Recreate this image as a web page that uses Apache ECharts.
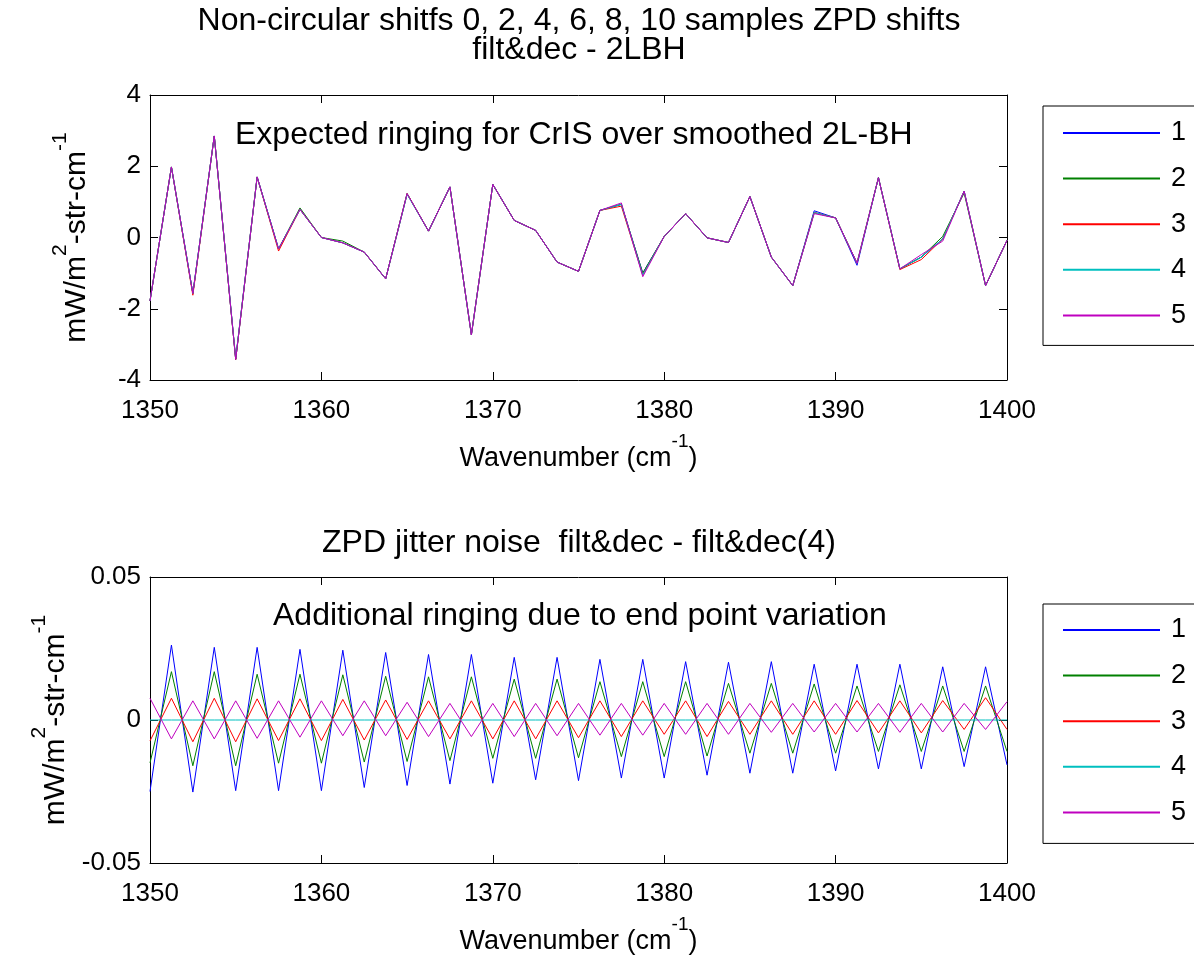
<!DOCTYPE html>
<html><head><meta charset="utf-8">
<script src="https://cdn.jsdelivr.net/npm/echarts@6/dist/echarts.min.js"></script>
<style>html,body{margin:0;padding:0;background:#fff}#c{width:1194px;height:960px}</style>
</head><body><div id="c"></div>
<script>
// ---------- data ----------
const wavenumbers = [1350,1351.25,1352.5,1353.75,1355,1356.25,1357.5,1358.75,1360,1361.25,1362.5,1363.75,1365,1366.25,1367.5,1368.75,1370,1371.25,1372.5,1373.75,1375,1376.25,1377.5,1378.75,1380,1381.25,1382.5,1383.75,1385,1386.25,1387.5,1388.75,1390,1391.25,1392.5,1393.75,1395,1396.25,1397.5,1398.75,1400];
const seriesNames = ['1','2','3','4','5'];

// top panel: ringing for CrIS (mW/m2-str-cm-1)
const top1 = [-1.78,1.98,-1.57,2.85,-3.42,1.70,-0.32,0.79,0.00,-0.15,-0.41,-1.16,1.23,0.18,1.42,-2.73,1.49,0.48,0.20,-0.69,-0.95,0.76,0.93,-1.00,0.03,0.67,-0.01,-0.14,1.15,-0.55,-1.35,0.75,0.55,-0.78,1.68,-0.88,-0.55,-0.04,1.30,-1.35,-0.08];
const top2 = [-1.78,1.98,-1.57,2.85,-3.42,1.70,-0.32,0.83,0.00,-0.10,-0.41,-1.16,1.23,0.18,1.42,-2.73,1.49,0.48,0.20,-0.69,-0.95,0.76,0.93,-1.00,0.03,0.67,-0.01,-0.14,1.15,-0.55,-1.35,0.70,0.55,-0.72,1.68,-0.88,-0.55,0.03,1.25,-1.35,-0.08];
const top3 = [-1.78,1.98,-1.62,2.85,-3.42,1.70,-0.38,0.79,0.00,-0.15,-0.41,-1.16,1.23,0.18,1.42,-2.73,1.49,0.48,0.20,-0.69,-0.95,0.76,0.88,-1.05,0.03,0.67,-0.01,-0.14,1.15,-0.55,-1.35,0.70,0.55,-0.72,1.68,-0.90,-0.62,-0.04,1.30,-1.35,-0.08];
const top4 = [-1.78,1.98,-1.57,2.85,-3.38,1.70,-0.32,0.79,0.00,-0.15,-0.41,-1.16,1.21,0.18,1.42,-2.73,1.49,0.48,0.20,-0.69,-0.95,0.76,0.93,-1.05,0.03,0.67,-0.01,-0.14,1.15,-0.55,-1.35,0.70,0.55,-0.72,1.68,-0.88,-0.55,-0.04,1.30,-1.35,-0.08];
const top5 = [-1.78,1.98,-1.57,2.85,-3.42,1.70,-0.32,0.79,0.00,-0.15,-0.41,-1.16,1.23,0.18,1.42,-2.73,1.49,0.48,0.20,-0.69,-0.95,0.76,0.97,-1.10,0.03,0.67,-0.01,-0.14,1.15,-0.55,-1.35,0.67,0.55,-0.72,1.68,-0.88,-0.48,-0.10,1.30,-1.35,-0.08];

// bottom panel: ZPD jitter noise
const bot1 = [-0.0250,0.0262,-0.0252,0.0254,-0.0247,0.0254,-0.0247,0.0247,-0.0247,0.0244,-0.0236,0.0236,-0.0229,0.0229,-0.0224,0.0229,-0.0221,0.0219,-0.0209,0.0219,-0.0212,0.0212,-0.0203,0.0212,-0.0203,0.0204,-0.0193,0.0202,-0.0186,0.0204,-0.0186,0.0195,-0.0178,0.0195,-0.0171,0.0195,-0.0171,0.0186,-0.0163,0.0186,-0.0157];
const bot2 = [-0.0150,0.0169,-0.0160,0.0169,-0.0160,0.0160,-0.0151,0.0160,-0.0151,0.0158,-0.0147,0.0153,-0.0145,0.0151,-0.0142,0.0151,-0.0134,0.0143,-0.0134,0.0143,-0.0132,0.0134,-0.0128,0.0134,-0.0128,0.0134,-0.0126,0.0128,-0.0116,0.0128,-0.0116,0.0126,-0.0116,0.0119,-0.0110,0.0123,-0.0110,0.0119,-0.0110,0.0119,-0.0110];
const bot3 = [-0.0073,0.0076,-0.0076,0.0076,-0.0076,0.0074,-0.0072,0.0074,-0.0072,0.0072,-0.0070,0.0070,-0.0068,0.0067,-0.0066,0.0067,-0.0066,0.0067,-0.0066,0.0067,-0.0062,0.0067,-0.0058,0.0067,-0.0050,0.0067,-0.0058,0.0065,-0.0050,0.0067,-0.0050,0.0067,-0.0050,0.0068,-0.0045,0.0067,-0.0045,0.0068,-0.0033,0.0078,-0.0033];
const bot4 = [0,0,0,0,0,0,0,0,0,0,0,0,0,0,0,0,0,0,0,0,0,0,0,0,0,0,0,0,0,0,0,0,0,0,0,0,0,0,0,0,0];
const bot5 = [0.0076,-0.0066,0.0067,-0.0066,0.0067,-0.0064,0.0067,-0.0060,0.0067,-0.0055,0.0067,-0.0055,0.0062,-0.0058,0.0058,-0.0058,0.0058,-0.0058,0.0058,-0.0055,0.0058,-0.0053,0.0058,-0.0053,0.0058,-0.0050,0.0058,-0.0050,0.0058,-0.0043,0.0058,-0.0042,0.0058,-0.0042,0.0058,-0.0043,0.0058,-0.0042,0.0058,-0.0033,0.0064];

const colors = ['#0000ff','#008000','#ff0000','#00bfbf','#bf00bf'];

// ---------- chart ----------
const FONT = 'Liberation Sans, Arial, Helvetica, sans-serif';
const G = [
  {left:150, top:95, width:857, height:285},
  {left:150, top:577, width:857, height:286}
];
const supRichX = {
  n:{fontFamily:FONT, fontSize:27, color:'#000', lineHeight:40, verticalAlign:'bottom'},
  s:{fontFamily:FONT, fontSize:19, color:'#000', lineHeight:28, verticalAlign:'top'}
};
const supRichY = {
  n:{fontFamily:FONT, fontSize:30, color:'#000', lineHeight:42, verticalAlign:'bottom'},
  s:{fontFamily:FONT, fontSize:21, color:'#000', lineHeight:29, verticalAlign:'top'}
};
function xAx(gi, pos){
  const main = pos==='bottom';
  return {type:'value', gridIndex:gi, position:pos, min:1350, max:1400, interval:10,
    axisLine:{show:true, onZero:false, lineStyle:{color:'#000', width:1}},
    axisTick:{show:true, inside:true, length:8, lineStyle:{color:'#000'}},
    axisLabel:{show:main, color:'#000', fontFamily:FONT, fontSize:26, margin:18,
      formatter:v=>String(v)},
    splitLine:{show:false},
    name: main ? '{n|Wavenumber (cm}{s|-1}{n|)}' : '',
    nameLocation:'middle', nameGap:52,
    nameTextStyle:{rich:supRichX}
  };
}
function yAx(gi, pos, mn, mx, iv){
  const main = pos==='left';
  return {type:'value', gridIndex:gi, position:pos, min:mn, max:mx, interval:iv,
    axisLine:{show:true, onZero:false, lineStyle:{color:'#000', width:1}},
    axisTick:{show:true, inside:true, length:8, lineStyle:{color:'#000'}},
    axisLabel:{show:main, color:'#000', fontFamily:FONT, fontSize:26, margin:9,
      formatter:v=>String(v)},
    splitLine:{show:false},
    name: main ? '{n|mW/m}{s|2}{n|-str-cm}{s|-1}' : '',
    nameLocation:'middle', nameGap:58, nameRotate:90,
    nameTextStyle:{rich:supRichY}
  };
}
const topData = [top1,top2,top3,top4,top5];
const botData = [bot1,bot2,bot3,bot4,bot5];
const series = [];
topData.forEach((arr,k)=>series.push({
  type:'line', name:seriesNames[k], xAxisIndex:0, yAxisIndex:0, symbol:'none', showSymbol:false,
  color:colors[k], lineStyle:{width:1, color:colors[k]}, animation:false,
  data:wavenumbers.map((x,i)=>[x,arr[i]])
}));
botData.forEach((arr,k)=>series.push({
  type:'line', name:seriesNames[k], xAxisIndex:2, yAxisIndex:2, symbol:'none', showSymbol:false,
  color:colors[k], lineStyle:{width:1, color:colors[k]}, animation:false,
  data:wavenumbers.map((x,i)=>[x,arr[i]])
}));
function legend(top, pt, pb){
  return {data:seriesNames.map(n=>({name:n, icon:'rect'})), orient:'vertical', left:1043, top:top,
    padding:[pt,40,pb,20], itemWidth:97, itemHeight:2, itemGap:15.6,
    borderColor:'#000', borderWidth:1, borderRadius:0, backgroundColor:'#fff',
    selectedMode:false,
    textStyle:{fontFamily:FONT, fontSize:27, color:'#000', lineHeight:30, padding:[0,0,0,6]}};
}
function txt(x,y,s,size,align){
  return {type:'text', x:x, y:y, silent:true, z:100,
    style:{text:s, fill:'#000', font:size+'px '+FONT, align:align||'center', verticalAlign:'middle'}};
}
const chart = echarts.init(document.getElementById('c'), null, {renderer:'canvas'});
chart.setOption({
  animation:false,
  backgroundColor:'#fff',
  grid:G.map(g=>Object.assign({outerBoundsMode:'none', containLabel:false}, g)),
  xAxis:[xAx(0,'bottom'), xAx(0,'top'), xAx(1,'bottom'), xAx(1,'top')],
  yAxis:[yAx(0,'left',-4,4,2), yAx(0,'right',-4,4,2), yAx(1,'left',-0.05,0.05,0.05), yAx(1,'right',-0.05,0.05,0.05)],
  legend:[legend(106,12,15), legend(604,11,16)],
  series:series,
  graphic:[
    txt(579,21,'Non-circular shitfs 0, 2, 4, 6, 8, 10 samples ZPD shifts',32),
    txt(579,50,'filt&dec - 2LBH',32),
    txt(235,135,'Expected ringing for CrIS over smoothed 2L-BH',32,'left'),
    txt(579,543,'ZPD jitter noise  filt&dec - filt&dec(4)',32),
    txt(273,616,'Additional ringing due to end point variation',32,'left')
  ]
});
</script></body></html>
